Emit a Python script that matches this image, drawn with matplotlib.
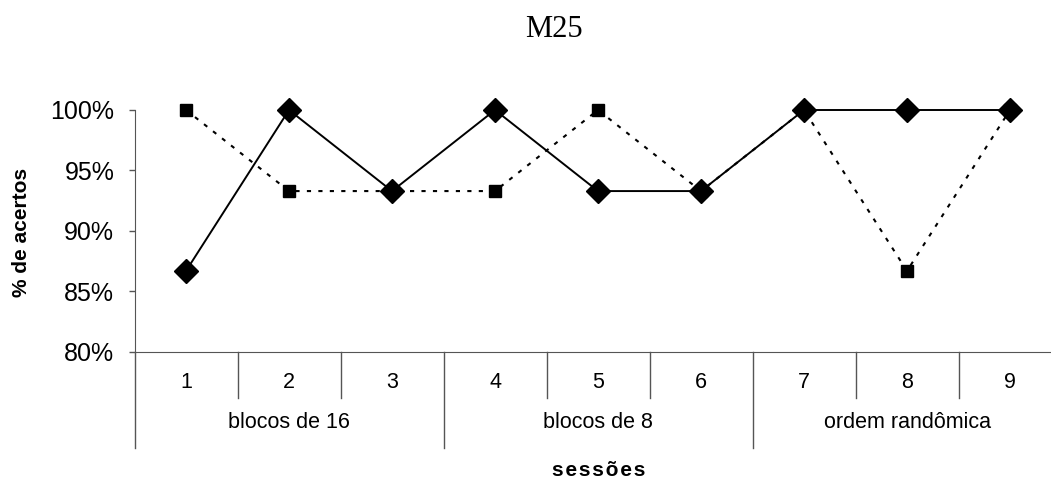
import matplotlib.pyplot as plt
from matplotlib.ticker import FuncFormatter
from matplotlib.lines import Line2D

sessions = ['1', '2', '3', '4', '5', '6', '7', '8', '9']
groups = ['blocos de 16', 'blocos de 8', 'ordem randômica']
solid_vals = [86.7, 100, 93.3, 100, 93.3, 93.3, 100, 100, 100]
dotted_vals = [100, 93.3, 93.3, 93.3, 100, 93.3, 100, 86.7, 100]

plt.rcParams['font.family'] = ['Liberation Sans', 'DejaVu Sans']

W, H = 1051, 479
fig = plt.figure(figsize=(W / 100, H / 100), dpi=100)
# plot area runs a bit past the right edge, as in the cropped original
ax = fig.add_axes([134.5 / W, 1 - 352 / H, 927 / W, 242 / H])

x = list(range(len(sessions)))
ax.plot(x, dotted_vals, color='black', lw=1.5, linestyle=(0, (2, 3.5)),
        marker='s', markersize=8, markerfacecolor='black', zorder=3, clip_on=False)
ax.plot(x, solid_vals, color='black', lw=1.4, marker='D', markersize=12,
        markerfacecolor='black', zorder=4, clip_on=False)

ax.set_xlim(-0.5, len(sessions) - 0.5)
ax.set_ylim(80, 100)
ax.set_yticks([80, 85, 90, 95, 100])
ax.yaxis.set_major_formatter(FuncFormatter(lambda v, p: '%d%%' % v))
ax.tick_params(axis='y', labelsize=18, length=4.5, width=1, color='#555555', pad=10)
ax.set_xticks([])

for s in ['top', 'right']:
    ax.spines[s].set_visible(False)
ax.spines['left'].set_color('#555555')
ax.spines['bottom'].set_color('#555555')

fig.text(22 / W, 1 - 232 / H, '% de acertos', fontsize=15, fontweight='bold',
         rotation=90, ha='center', va='center')
fig.text(554 / W, 1 - 37 / H, 'M25', fontsize=22, family='Liberation Serif',
         ha='center', va='baseline')

# category table under the axis
trans = ax.get_xaxis_transform()
frac = 1 / 242
for i, lab in enumerate(sessions):
    ax.text(i, -(383 - 352) * frac, lab, transform=trans, ha='center', va='center',
            fontsize=15.5)
for i in range(1, len(sessions)):
    low = -(448 - 352) * frac if i % 3 == 0 else -(398 - 352) * frac
    ax.add_line(Line2D([i - 0.5, i - 0.5], [0, low], transform=trans, color='#555555',
                       lw=1, clip_on=False))
ax.add_line(Line2D([-0.5, -0.5], [0, -(448 - 352) * frac], transform=trans, color='#555555',
                   lw=1, clip_on=False))
for g, lab in enumerate(groups):
    ax.text(g * 3 + 1, -(423 - 352) * frac, lab, transform=trans, ha='center', va='center',
            fontsize=15.5)

fig.text(599 / W, 1 - 470 / H, '\u200a'.join('sessões'), fontsize=15,
         fontweight='bold', ha='center', va='center')

fig.savefig('out.png', dpi=100)
